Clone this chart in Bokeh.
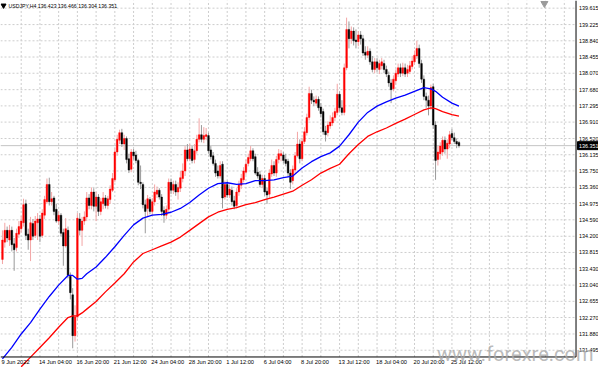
import numpy as np
from bokeh.plotting import figure
from bokeh.models import Range1d, ColumnDataSource
from bokeh.core.properties import value
from bokeh.embed import file_html
from bokeh.resources import INLINE

# ---------------- data (USDJPY, H4) ----------------
opens = [133.65,134.06,134.34,134.11,134.34,134.02,133.93,134.25,134.38,134.52,
         134.97,134.25,134.11,134.50,134.22,134.52,134.61,134.22,134.70,135.02,
         135.43,135.02,135.11,134.84,134.56,134.70,134.29,133.97,134.34,133.25,
         132.81,131.84,132.29,134.61,134.34,134.56,134.66,135.11,134.93,135.25,
         134.91,135.13,134.79,134.97,135.11,134.93,135.07,135.29,135.54,136.20,
         136.48,136.66,136.39,136.52,136.04,135.79,136.20,136.13,136.00,135.48,
         135.43,134.95,134.86,135.07,134.79,135.02,135.20,135.29,135.13,134.81,
         134.70,134.84,135.48,135.29,135.43,135.25,135.34,135.57,135.75,136.25,
         136.04,136.27,136.02,136.23,136.50,136.61,136.50,136.57,136.59,136.25,
         136.11,135.93,135.75,135.63,135.91,135.13,135.43,135.18,135.29,135.04,
         134.93,135.25,135.41,135.54,135.72,135.93,136.04,136.23,136.09,135.72,
         135.66,135.43,135.57,135.27,135.20,135.68,135.88,135.70,136.02,136.11,
         136.13,136.02,135.98,135.70,135.52,135.77,136.11,136.39,136.04,136.45,
         136.66,137.02,137.59,137.43,137.36,137.45,137.27,137.16,136.70,136.66,
         136.82,136.89,137.02,137.14,137.57,137.25,137.14,138.20,139.11,138.89,
         139.07,138.86,138.82,138.98,138.89,138.57,138.50,138.59,138.34,138.16,
         138.34,138.16,138.25,138.30,138.16,138.02,137.84,137.70,137.89,138.05,
         138.20,138.07,138.20,138.07,138.11,138.23,138.34,138.48,138.66,138.30,
         137.93,137.52,137.43,137.29,137.75,136.84,136.02,136.16,136.20,136.48,
         136.27,136.39,136.64,136.54,136.45,136.423]
closes = [134.11,134.34,134.16,134.34,134.00,133.88,134.27,134.43,134.56,134.95,
          134.22,134.11,134.52,134.20,134.56,134.61,134.20,134.75,135.07,135.43,
          135.02,135.09,134.79,134.56,134.70,134.27,133.97,134.38,133.27,132.86,
          131.84,132.29,134.63,134.34,134.56,134.66,135.11,134.93,135.25,134.91,
          135.13,134.79,135.02,135.11,134.93,135.09,135.32,135.57,136.20,136.50,
          136.66,136.39,136.52,136.02,135.77,136.20,136.11,136.00,135.48,135.45,
          134.95,134.79,135.09,134.79,135.02,135.25,135.29,135.13,134.79,134.70,
          134.84,135.48,135.29,135.43,135.25,135.36,135.59,135.75,136.25,136.04,
          136.27,136.00,136.23,136.50,136.61,136.50,136.59,136.61,136.23,136.09,
          135.93,135.70,135.63,135.88,135.11,135.43,135.18,135.32,135.02,134.91,
          135.25,135.43,135.57,135.75,135.91,136.07,136.23,136.04,135.70,135.63,
          135.43,135.57,135.25,135.18,135.70,135.88,135.70,136.02,136.16,136.16,
          136.00,135.93,135.70,135.48,135.79,136.11,136.39,136.04,136.45,136.68,
          137.02,137.59,137.43,137.39,137.45,137.25,137.11,136.68,136.61,136.84,
          136.91,137.02,137.16,137.57,137.25,137.14,138.20,139.11,138.89,139.07,
          138.84,138.82,138.98,138.89,138.55,138.50,138.59,138.34,138.16,138.34,
          138.20,138.30,138.34,138.16,138.05,137.84,137.68,137.93,138.07,138.20,
          138.07,138.20,138.05,138.16,138.25,138.36,138.50,138.66,138.30,137.93,
          137.52,137.43,137.29,137.73,136.84,136.00,136.20,136.34,136.48,136.27,
          136.41,136.61,136.54,136.45,136.39,136.351]
highs = [134.34,134.52,134.43,134.47,134.43,134.16,134.38,134.56,134.68,135.09,
         135.07,134.38,134.66,134.61,134.68,134.75,134.70,134.84,135.16,135.57,
         135.59,135.25,135.16,134.97,134.79,134.75,134.38,134.63,134.43,133.34,
         132.97,132.56,134.75,134.75,134.66,134.79,135.25,135.20,135.36,135.34,
         135.25,135.20,135.11,135.25,135.18,135.16,135.41,135.70,136.29,136.61,
         136.73,136.75,136.61,136.57,136.16,136.27,136.27,136.23,136.04,135.88,
         135.48,135.07,135.18,135.13,135.11,135.43,135.38,135.34,135.20,134.91,
         134.93,135.57,135.57,135.52,135.52,135.48,135.75,135.93,136.34,136.39,
         136.39,136.34,136.39,136.61,137.00,136.84,136.79,136.77,136.66,136.34,
         136.20,136.02,135.88,135.98,135.98,135.52,135.52,135.43,135.38,135.16,
         135.34,135.52,135.68,135.84,136.02,136.16,136.34,136.29,136.16,135.84,
         135.75,135.66,135.66,135.36,135.79,136.02,135.98,136.11,136.27,136.25,
         136.20,136.16,136.04,135.79,135.88,136.20,136.68,136.50,136.54,136.79,
         137.11,137.75,137.68,137.52,137.54,137.52,137.36,137.23,136.82,136.93,
         137.07,137.14,137.25,137.82,137.64,137.43,138.30,139.39,139.30,139.18,
         139.16,139.11,139.07,139.07,138.98,138.71,138.71,138.66,138.48,138.43,
         138.43,138.39,138.43,138.39,138.25,138.11,137.93,138.02,138.16,138.30,
         138.30,138.32,138.30,138.27,138.36,138.48,138.61,138.84,138.75,138.39,
         138.02,137.61,137.54,137.80,137.82,136.93,136.34,136.43,136.57,136.57,
         136.50,136.70,136.75,136.66,136.52,136.466]
lows = [133.54,133.93,134.06,133.97,133.84,133.38,133.84,134.16,134.29,134.43,
        134.11,133.88,133.61,134.11,134.16,134.11,134.06,134.16,134.61,134.97,
        134.93,134.93,134.70,134.52,134.47,134.20,133.50,133.93,133.20,132.70,
        131.54,131.70,132.20,134.22,133.97,134.47,134.56,134.84,134.84,134.79,
        134.56,134.68,134.70,134.84,134.86,134.84,134.97,135.25,135.48,136.11,
        136.39,136.32,136.25,135.93,135.70,135.72,136.02,135.93,135.41,135.32,
        134.86,134.27,134.68,134.72,134.70,134.93,135.11,135.07,134.68,134.52,
        134.61,134.75,135.20,135.20,135.16,135.07,135.25,135.48,135.63,135.98,
        135.98,135.93,135.93,136.16,136.43,136.43,136.41,136.48,136.16,136.02,
        135.88,135.61,135.57,135.57,134.86,135.07,135.11,135.11,134.93,134.84,
        134.86,135.16,135.32,135.48,135.66,135.86,135.98,135.98,135.66,135.57,
        135.36,135.34,135.16,134.97,135.11,135.61,135.63,135.61,135.93,135.98,
        135.93,135.86,135.61,135.32,135.43,135.70,136.07,135.93,135.98,136.39,
        136.59,136.95,137.34,137.29,137.29,137.18,137.02,136.61,136.45,136.57,
        136.75,136.82,136.93,137.07,137.16,137.07,137.07,138.14,138.66,138.77,
        138.73,138.66,138.71,138.75,138.48,138.39,138.43,138.27,138.09,138.07,
        138.11,138.05,138.16,138.07,137.98,137.75,137.36,137.64,137.80,137.98,
        137.98,138.00,137.98,137.98,138.05,138.16,138.27,138.41,138.20,137.84,
        137.43,137.25,137.07,137.20,136.75,135.54,135.88,136.02,136.11,136.16,
        136.04,136.29,136.48,136.39,136.29,136.304]

# moving averages (read at selected bars)
ma_fast_bar = [0,4,8,12,16,20,24,28,30,32,34,36,40,44,48,52,56,60,64,68,72,76,80,84,88,92,96,
               100,104,108,112,116,120,124,128,132,136,140,144,148,152,156,160,164,168,172,176,180,
               183,185,188,192,195]
ma_fast = [131.29,131.56,131.88,132.15,132.47,132.77,133.04,133.27,133.27,133.18,133.20,133.31,
           133.47,133.70,133.95,134.22,134.47,134.63,134.70,134.72,134.77,134.86,135.00,135.18,
           135.34,135.45,135.47,135.43,135.45,135.52,135.52,135.54,135.59,135.63,135.82,135.97,
           136.09,136.18,136.34,136.61,136.91,137.14,137.29,137.39,137.48,137.55,137.64,137.73,
           137.70,137.64,137.50,137.36,137.29]
ma_slow_bar = [8,12,16,20,24,28,30,32,34,36,40,44,48,52,56,60,64,68,72,76,80,84,88,92,96,
               100,104,108,112,116,120,124,128,132,136,140,144,148,152,156,160,164,168,172,176,180,
               183,185,188,192,195]
ma_slow = [131.10,131.33,131.56,131.79,132.04,132.27,132.31,132.31,132.38,132.47,132.65,132.88,
           133.09,133.31,133.59,133.79,133.88,133.97,134.06,134.18,134.34,134.50,134.66,134.77,
           134.84,134.88,134.95,135.00,135.07,135.13,135.20,135.27,135.41,135.54,135.70,135.81,
           135.91,136.16,136.38,136.57,136.68,136.77,136.88,136.98,137.09,137.20,137.25,137.23,
           137.16,137.09,137.05]

price_ticks = [139.615,139.225,138.840,138.455,138.070,137.680,137.295,136.910,136.520,136.135,
               135.750,135.360,134.975,134.590,134.200,133.815,133.430,133.040,132.655,132.270,
               131.880,131.495]
time_labels = ["9 Jun 2022","14 Jun 04:00","16 Jun 20:00","21 Jun 12:00","24 Jun 04:00",
               "28 Jun 20:00","1 Jul 12:00","6 Jul 04:00","8 Jul 20:00","13 Jul 12:00",
               "18 Jul 04:00","20 Jul 20:00","25 Jul 12:00"]
time_label_bars = [0,16,32,48,64,80,96,112,128,144,160,176,192]
grid_bars = list(range(8, 241, 8))
last_price = 136.351
title_text = "USDJPY,H4  136.423 136.466 136.304 136.351"
watermark = "www.forexre.com"

# ---------------- layout constants ----------------
W, H = 598, 367
X0, XF = -0.84, 254.6          # whole canvas in bar units
XA = 245.0                      # price-scale line (bar units)
Y0, Y1 = 131.084, 139.797       # whole canvas in price units
YA = 131.334                    # time-scale line (price units)
PX = W / (XF - X0)              # pixels per bar
PY = H / (Y1 - Y0)              # pixels per yen
FONT = value("Liberation Sans")

p = figure(width=W, height=H, x_range=Range1d(X0, XF), y_range=Range1d(Y0, Y1),
           x_axis_location=None, y_axis_location=None,
           toolbar_location=None, output_backend="svg",
           min_border_left=0, min_border_top=0, min_border_right=0, min_border_bottom=0)
p.outline_line_color = None
p.background_fill_color = "white"
p.border_fill_color = "white"
p.xgrid.visible = False
p.ygrid.visible = False

# grid (stops at the scales)
grid_col = "#cdcdcd"
n_pt = len(price_ticks)
p.segment(x0=[X0] * n_pt, y0=price_ticks, x1=[XA] * n_pt, y1=price_ticks,
          line_color=grid_col, line_dash="2 2", line_width=1)
n_gb = len(grid_bars)
p.segment(x0=grid_bars, y0=[YA] * n_gb, x1=grid_bars, y1=[Y1] * n_gb,
          line_color=grid_col, line_dash="2 2", line_width=1)

# bid line
p.segment(x0=[X0], y0=[last_price], x1=[XA], y1=[last_price], line_color="#c4c4c4", line_width=1)

# candles
bars = np.arange(len(opens))
o = np.array(opens); c = np.array(closes); h = np.array(highs); l = np.array(lows)
up = c >= o
src = ColumnDataSource(dict(x=bars, h=h, l=l, top=np.maximum(o, c), bottom=np.minimum(o, c),
                            bc=np.where(up, "#ff0000", "#000000"),
                            wc=np.where(up, "#f3a5a5", "#9a9a9a")))
p.segment(x0="x", y0="l", x1="x", y1="h", color="wc", line_width=1, source=src)
p.vbar(x="x", width=0.72, top="top", bottom="bottom", fill_color="bc", line_color="bc",
       line_width=0.4, source=src)

# moving averages
p.line(ma_slow_bar, ma_slow, line_color="#ff0000", line_width=1.3)
p.line(ma_fast_bar, ma_fast, line_color="#0000ff", line_width=1.3)

# scales
p.segment(x0=[XA], y0=[YA], x1=[XA], y1=[Y1], line_color="black", line_width=1)
p.segment(x0=[X0], y0=[YA], x1=[XA], y1=[YA], line_color="black", line_width=1)
p.text(x=[XA] * n_pt, y=price_ticks, text=["%.3f" % v for v in price_ticks],
       x_offset=3, text_baseline="middle", text_align="left",
       text_font=FONT, text_font_size="5.4px", text_color="black")
n_tl = len(time_labels)
p.text(x=time_label_bars, y=[YA] * n_tl, text=time_labels, x_offset=-1, y_offset=5.5,
       text_baseline="middle", text_align="left",
       text_font=FONT, text_font_size="5.7px", text_color="black")

# watermark
p.text(x=[XF], y=[131.40], text=[watermark], x_offset=-5,
       text_baseline="alphabetic", text_align="right",
       text_font=value("Roboto"), text_font_size="20px", text_color="#a9a9a9", text_alpha=0.8)

# current price box
p.rect(x=[XA + 12.5 / PX], y=[last_price], width=22, height=8,
       width_units="screen", height_units="screen", fill_color="black", line_color="black")
p.text(x=[XA], y=[last_price], text=["%.3f" % last_price], x_offset=3,
       text_baseline="middle", text_align="left",
       text_font=FONT, text_font_size="5.4px", text_color="white")

# title and markers
p.scatter([X0 + 1.3], [Y1 - 5 / PY], marker="inverted_triangle", size=5, color="black")
p.text(x=[X0 + 3.4], y=[Y1], text=[title_text], y_offset=5, text_baseline="middle",
       text_font=FONT, text_font_size="5.2px", text_color="black")
p.scatter([231.5], [Y1 - 3 / PY], marker="inverted_triangle", size=7, color="#9a9a9a")

open("out.html", "w").write(file_html(p, INLINE))
